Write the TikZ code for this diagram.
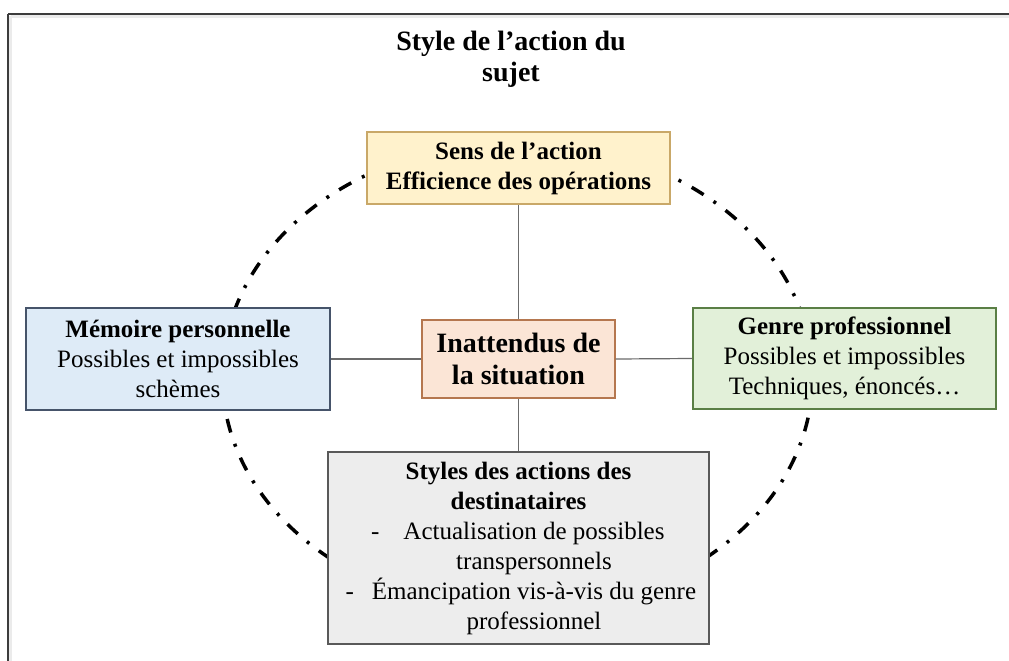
\documentclass[tikz,border=0pt]{standalone}
\usepackage{fontspec}
\setmainfont{Liberation Serif}
\definecolor{yelfill}{HTML}{FFF2CC}
\definecolor{yeldraw}{HTML}{C9A868}
\definecolor{bluefill}{HTML}{DEEBF7}
\definecolor{bluedraw}{HTML}{46546A}
\definecolor{grnfill}{HTML}{E2F0D9}
\definecolor{grndraw}{HTML}{5A7F45}
\definecolor{orgfill}{HTML}{FBE5D6}
\definecolor{orgdraw}{HTML}{B5774F}
\definecolor{gryfill}{HTML}{EDEDED}
\definecolor{grydraw}{HTML}{595959}
\definecolor{linkcol}{HTML}{6B6B6B}
\definecolor{framecol}{HTML}{3C3C3C}
\definecolor{shadowcol}{HTML}{EBEBEB}
\begin{document}
\begin{tikzpicture}[x=1pt,y=-1pt,
  box/.style={rectangle, draw, line width=1.2pt, inner sep=0pt, align=center,
    font=\fontsize{25}{30}\selectfont},
  link/.style={draw=linkcol, line width=1.2pt},
  orbit/.style={line width=3.5pt, dash pattern=on 14pt off 12pt on 3pt off 12pt},
  framerule/.style={draw=framecol, line width=1.5pt},
  frameshadow/.style={draw=shadowcol, line width=3pt},
]
\useasboundingbox (0,0) rectangle (1009,661);
\fill[white] (0,0) rectangle (1009,661);
% frame
\draw[frameshadow] (10.5,16.5) -- (1009,16.5);
\draw[frameshadow] (10.5,16.5) -- (10.5,661);
\draw[framerule] (8,14) -- (1009,14);
\draw[framerule] (8,14) -- (8,661);
% dash-dot orbit
\draw[orbit] (517.5,377) ellipse [x radius=295, y radius=235];
% title
\node[align=center, font=\fontsize{28}{31}\selectfont\bfseries] (title) at (511,59)
  {Style de l’action du\\sujet};
% boxes
\node[box, fill=yelfill, draw=yeldraw, minimum width=303pt, minimum height=72pt] (top) at (518.5,168)
  {\textbf{Sens de l’action}\\\textbf{Efficience des opérations}};
\node[box, fill=bluefill, draw=bluedraw, minimum width=304pt, minimum height=102pt] (left) at (178,359)
  {\textbf{Mémoire personnelle}\\Possibles et impossibles\\schèmes};
\node[box, fill=grnfill, draw=grndraw, minimum width=303pt, minimum height=101pt] (right) at (844.5,358.5)
  {\textbf{Genre professionnel}\\Possibles et impossibles\\Techniques, énoncés…};
\node[box, fill=orgfill, draw=orgdraw, minimum width=193pt, minimum height=78pt,
  font=\fontsize{28}{32}\selectfont\bfseries] (center) at (518.5,359)
  {Inattendus de\\la situation};
\node[box, fill=gryfill, draw=grydraw, minimum width=381pt, minimum height=192pt] (bottom) at (518.5,548)
  {\textbf{Styles des actions des}\\\textbf{destinataires}\\
   \hspace*{31pt}\llap{-\hspace{24pt}}Actualisation de possibles\\
   \hspace*{31pt}transpersonnels\\
   \hspace*{31pt}\llap{-\hspace{18pt}}Émancipation vis-à-vis du genre\\
   \hspace*{31pt}professionnel};
% connectors
\draw[link] (center.north) -- (top.south);
\draw[link] (center.west) -- (left.east);
\draw[link] (center.east) -- (right.west);
\draw[link] (center.south) -- (bottom.north);
\end{tikzpicture}
\end{document}
